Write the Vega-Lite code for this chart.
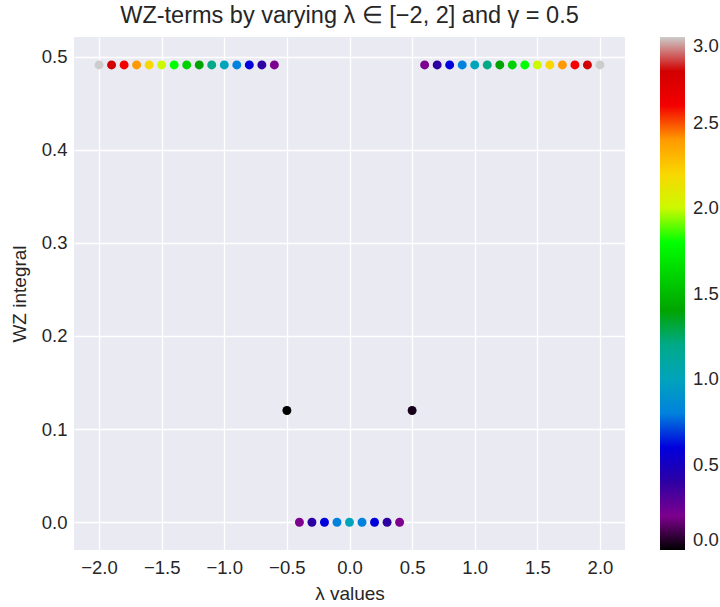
{
  "$schema": "https://vega.github.io/schema/vega-lite/v6.json",
  "width": 551,
  "height": 513,
  "autosize": {"type": "none"},
  "padding": {"left": 74, "top": 37, "right": 95, "bottom": 57},
  "background": "white",
  "title": {
    "text": "WZ-terms by varying λ ∈ [−2, 2] and γ = 0.5",
    "font": "Liberation Sans",
    "fontSize": 23.5,
    "fontWeight": "normal",
    "color": "#262626",
    "anchor": "middle",
    "offset": 10
  },
  "config": {
    "view": {"fill": "#EAEAF2", "stroke": null},
    "axis": {
      "grid": true,
      "gridColor": "white",
      "gridWidth": 1.3,
      "domain": false,
      "ticks": false,
      "labelFont": "Liberation Sans",
      "labelFontSize": 18.5,
      "labelColor": "#262626",
      "titleFont": "Liberation Sans",
      "titleFontSize": 19,
      "titleFontWeight": "normal",
      "titleColor": "#262626"
    },
    "legend": {
      "labelFont": "Liberation Sans",
      "labelFontSize": 18.5,
      "labelColor": "#262626"
    }
  },
  "data": {
    "values": [
      {"lam": -2.0, "wz": 0.491, "c": 3.0},
      {"lam": -1.9, "wz": 0.491, "c": 2.8},
      {"lam": -1.8, "wz": 0.491, "c": 2.6},
      {"lam": -1.7, "wz": 0.491, "c": 2.4},
      {"lam": -1.6, "wz": 0.491, "c": 2.2},
      {"lam": -1.5, "wz": 0.491, "c": 2.0},
      {"lam": -1.4, "wz": 0.491, "c": 1.8},
      {"lam": -1.3, "wz": 0.491, "c": 1.6},
      {"lam": -1.2, "wz": 0.491, "c": 1.4},
      {"lam": -1.1, "wz": 0.491, "c": 1.2},
      {"lam": -1.0, "wz": 0.491, "c": 1.0},
      {"lam": -0.9, "wz": 0.491, "c": 0.8},
      {"lam": -0.8, "wz": 0.491, "c": 0.6},
      {"lam": -0.7, "wz": 0.491, "c": 0.4},
      {"lam": -0.6, "wz": 0.491, "c": 0.2},
      {"lam": -0.5, "wz": 0.12, "c": 0.0},
      {"lam": -0.4, "wz": 0.0, "c": 0.2},
      {"lam": -0.3, "wz": 0.0, "c": 0.4},
      {"lam": -0.2, "wz": 0.0, "c": 0.6},
      {"lam": -0.1, "wz": 0.0, "c": 0.8},
      {"lam": 0.0, "wz": 0.0, "c": 1.0},
      {"lam": 0.1, "wz": 0.0, "c": 0.8},
      {"lam": 0.2, "wz": 0.0, "c": 0.6},
      {"lam": 0.3, "wz": 0.0, "c": 0.4},
      {"lam": 0.4, "wz": 0.0, "c": 0.2},
      {"lam": 0.5, "wz": 0.12, "c": 0.03},
      {"lam": 0.6, "wz": 0.491, "c": 0.2},
      {"lam": 0.7, "wz": 0.491, "c": 0.4},
      {"lam": 0.8, "wz": 0.491, "c": 0.6},
      {"lam": 0.9, "wz": 0.491, "c": 0.8},
      {"lam": 1.0, "wz": 0.491, "c": 1.0},
      {"lam": 1.1, "wz": 0.491, "c": 1.2},
      {"lam": 1.2, "wz": 0.491, "c": 1.4},
      {"lam": 1.3, "wz": 0.491, "c": 1.6},
      {"lam": 1.4, "wz": 0.491, "c": 1.8},
      {"lam": 1.5, "wz": 0.491, "c": 2.0},
      {"lam": 1.6, "wz": 0.491, "c": 2.2},
      {"lam": 1.7, "wz": 0.491, "c": 2.4},
      {"lam": 1.8, "wz": 0.491, "c": 2.6},
      {"lam": 1.9, "wz": 0.491, "c": 2.8},
      {"lam": 2.0, "wz": 0.491, "c": 3.0}
    ]
  },
  "mark": {"type": "circle", "size": 80, "opacity": 1},
  "encoding": {
    "x": {
      "field": "lam",
      "type": "quantitative",
      "title": "λ values",
      "scale": {"domain": [-2.2, 2.2], "nice": false, "zero": false},
      "axis": {
        "values": [-2, -1.5, -1, -0.5, 0, 0.5, 1, 1.5, 2],
        "format": ".1f",
        "labelPadding": 8,
        "titlePadding": 8
      }
    },
    "y": {
      "field": "wz",
      "type": "quantitative",
      "title": "WZ integral",
      "scale": {"domain": [-0.0298, 0.521], "nice": false, "zero": false},
      "axis": {
        "values": [0, 0.1, 0.2, 0.3, 0.4, 0.5],
        "format": ".1f",
        "labelPadding": 7,
        "titlePadding": 12
      }
    },
    "color": {
      "field": "c",
      "type": "quantitative",
      "scale": {
        "type": "linear",
        "domain": [0, 3],
        "interpolate": "rgb",
        "range": ["#000000", "#770088", "#880099", "#0000aa", "#0000dd", "#0077dd", "#0099dd", "#00aaaa", "#00aa88", "#009900", "#00bb00", "#00dd00", "#00ff00", "#bbff00", "#eeee00", "#ffcc00", "#ff9900", "#ff0000", "#dd0000", "#cc0000", "#cccccc"]
      },
      "legend": {
        "title": null,
        "orient": "right",
        "offset": 35,
        "gradientLength": 513,
        "gradientThickness": 25,
        "gradientStrokeWidth": 0,
        "values": [0, 0.5, 1, 1.5, 2, 2.5, 3],
        "format": ".1f",
        "labelOffset": 8,
        "labelOverlap": false,
        "encode": {
          "labels": {
            "update": {
              "dy": {"signal": "datum.perc > 0.99 ? -8 : datum.perc < 0.01 ? 10 : 0"}
            }
          }
        }
      }
    }
  }
}
